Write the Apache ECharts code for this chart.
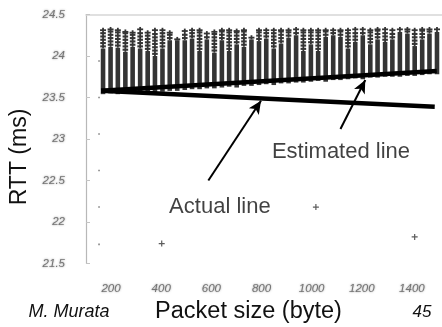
<!DOCTYPE html>
<html>
<head>
<meta charset="utf-8">
<script src="https://cdn.jsdelivr.net/npm/echarts@6/dist/echarts.min.js"></script>
<style>
  html, body { margin: 0; padding: 0; background: #fff; }
  #chart { width: 442px; height: 327px; }
</style>
</head>
<body>
<div id="chart"></div>
<script>
// Packet sizes (bytes) of each measured column
const packetSizes = [168, 198, 227, 257, 286, 316, 346, 375, 405, 434, 464, 494, 523, 553, 582, 612,
  642, 671, 701, 730, 760, 790, 819, 849, 878, 908, 938, 967, 997, 1026, 1056, 1086, 1115, 1145,
  1174, 1204, 1234, 1263, 1293, 1322, 1352, 1382, 1411, 1441, 1470, 1500];
// Lowest RTT observed for each packet size (ms)
const rttLow = [23.54, 23.55, 23.54, 23.55, 23.56, 23.55, 23.57, 23.56, 23.57, 23.58, 23.58, 23.59,
  23.60, 23.60, 23.61, 23.61, 23.62, 23.63, 23.62, 23.64, 23.64, 23.65, 23.66, 23.65, 23.67, 23.67,
  23.68, 23.68, 23.69, 23.70, 23.69, 23.71, 23.71, 23.72, 23.73, 23.72, 23.74, 23.74, 23.75, 23.75,
  23.75, 23.76, 23.76, 23.77, 23.78, 23.78];
// Upper edge of the dense block of samples (ms)
const rttDenseTop = [24.09, 24.11, 24.10, 24.05, 24.11, 24.09, 24.06, 24.00, 24.09, 24.19, 24.19,
  24.19, 24.21, 24.06, 24.20, 24.04, 24.19, 24.06, 24.14, 24.11, 24.20, 24.18, 24.21,
  24.09, 24.15, 24.22, 24.25, 24.06, 24.14, 24.06, 24.23, 24.25, 24.23, 24.09,
  24.17, 24.25, 24.14, 24.20, 24.17, 24.20, 24.29, 24.27, 24.12, 24.20, 24.27, 24.29];
// Largest RTT sample for each packet size (ms)
const rttMax = [24.34, 24.35, 24.34, 24.32, 24.31, 24.35, 24.31, 24.34, 24.34, 24.31, 24.23,
  24.33, 24.34, 24.34, 24.30, 24.32, 24.34, 24.34, 24.33, 24.34, 24.25, 24.34, 24.34,
  24.34, 24.34, 24.34, 24.35, 24.34, 24.34, 24.34, 24.34, 24.34, 24.34, 24.34,
  24.35, 24.35, 24.34, 24.35, 24.35, 24.34, 24.35, 24.35, 24.34, 24.35, 24.35, 24.35];

// Isolated samples far below the bulk
const outlierSizes = [402, 1017, 1411];
const outlierRtt = [21.74, 22.18, 21.82];
// Tiny marks along the left edge
const strayRtt = [23.94, 23.50, 23.06, 22.62, 22.18, 21.73];
const straySize = 152;

// Fitted lines: [packet size, RTT]
const estimatedLine = [[160, 23.58], [1499, 23.82]];
const actualLine = [[160, 23.58], [1491, 23.39]];

// Callouts
const calloutText = ['Actual line', 'Estimated line'];
const calloutAt = [[634, 22.18], [1117, 22.85]];
const arrowFrom = [[588, 22.50], [1115, 23.12]];
const arrowTo = [[798, 23.46], [1214, 23.71]];

const xTicks = [200, 400, 600, 800, 1000, 1200, 1400];

const colColor = '#343434';
const tickLabelStyle = {
  color: '#757575',
  fontStyle: 'italic',
  fontFamily: 'Liberation Sans',
  fontSize: 11.5,
  textShadowColor: 'rgba(110,110,110,0.75)',
  textShadowBlur: 2
};

function renderColumn(params, api) {
  const x = api.value(0);
  const pLow = api.coord([x, api.value(1)]);
  const pDense = api.coord([x, api.value(2)]);
  const pMax = api.coord([x, api.value(3)]);
  const cx = pLow[0];
  const w = 4.6;
  const children = [];
  children.push({ type: 'rect', shape: { x: cx - w / 2, y: pDense[1], width: w, height: pLow[1] - pDense[1] }, style: { fill: colColor } });
  children.push({ type: 'rect', shape: { x: cx - 0.9, y: pMax[1], width: 1.8, height: pDense[1] - pMax[1] }, style: { fill: colColor } });
  for (let y = pDense[1] - 3.2; y > pMax[1] + 2; y -= 3.3) {
    children.push({ type: 'rect', shape: { x: cx - 2.8, y: y, width: 5.6, height: 2.1 }, style: { fill: colColor } });
  }
  children.push({ type: 'rect', shape: { x: cx - 3, y: pMax[1] + 1.5, width: 6, height: 1.8 }, style: { fill: colColor } });
  return { type: 'group', children: children };
}

const columnData = packetSizes.map((s, i) => [s, rttLow[i], rttDenseTop[i], rttMax[i]]);

const chart = echarts.init(document.getElementById('chart'), null, { renderer: 'canvas' });
chart.setOption({
  animation: false,
  backgroundColor: '#fff',
  grid: { left: 86, top: 14.5, width: 358.6, height: 249 },
  xAxis: [{
    type: 'value', min: 100, max: 1520,
    axisLine: { show: false }, axisTick: { show: false }, splitLine: { show: false },
    axisLabel: Object.assign({ customValues: xTicks, margin: 19, formatter: v => String(v) }, tickLabelStyle)
  }, {
    type: 'value', min: 100, max: 1520, position: 'top',
    axisLine: { show: true, lineStyle: { color: '#d6d6d6', width: 1.5 } },
    axisTick: { show: false }, axisLabel: { show: false }, splitLine: { show: false }
  }],
  yAxis: {
    type: 'value', min: 21.5, max: 24.5, interval: 0.5,
    axisLine: { show: true, lineStyle: { color: '#b8b8b8', width: 1.2 } },
    axisTick: { show: true, inside: true, length: 4, lineStyle: { color: '#c4c4c4' } },
    splitLine: { show: false },
    axisLabel: Object.assign({ margin: 21, formatter: v => String(v) }, tickLabelStyle)
  },
  series: [
    {
      type: 'custom', renderItem: renderColumn, data: columnData,
      encode: { x: 0, y: [1, 2, 3] }, z: 2, silent: true
    },
    {
      type: 'scatter', data: outlierSizes.map((s, i) => [s, outlierRtt[i]]),
      symbol: 'path://M2.4,0H3.6V2.4H6V3.6H3.6V6H2.4V3.6H0V2.4H2.4Z', symbolSize: 6,
      itemStyle: { color: '#333' }, z: 3, silent: true
    },
    {
      type: 'scatter', data: strayRtt.map(v => [straySize, v]),
      symbol: 'rect', symbolSize: 1.6, itemStyle: { color: '#666' }, z: 3, silent: true
    },
    {
      type: 'line', data: estimatedLine, symbol: 'none',
      lineStyle: { color: '#000', width: 4.5 }, z: 4, silent: true
    },
    {
      type: 'line', data: actualLine, symbol: 'none',
      lineStyle: { color: '#000', width: 4.5 }, z: 4, silent: true,
      markLine: {
        silent: true,
        label: { show: false },
        lineStyle: { color: '#000', width: 2, type: 'solid' },
        data: arrowFrom.map((p, i) => [
          { coord: p, symbol: 'none' },
          { coord: arrowTo[i], symbol: 'arrow', symbolSize: [9, 13] }
        ])
      }
    },
    {
      type: 'scatter', data: calloutAt.map((p, i) => ({ value: p, name: calloutText[i] })),
      symbolSize: 1, itemStyle: { color: 'transparent' }, z: 5, silent: true,
      label: {
        show: true, position: 'inside', formatter: p => p.name,
        color: '#111', fontSize: 22, fontFamily: 'Liberation Sans'
      }
    }
  ],
  graphic: [
    {
      type: 'text', x: 20, y: 157, rotation: Math.PI / 2,
      style: { text: 'RTT (ms)', fill: '#111', fontSize: 23, fontFamily: 'Liberation Sans', align: 'center', verticalAlign: 'middle' }
    },
    {
      type: 'text', x: 248.5, y: 312,
      style: { text: 'Packet size (byte)', fill: '#111', fontSize: 23.5, fontFamily: 'Liberation Sans', align: 'center', verticalAlign: 'middle' }
    },
    {
      type: 'text', x: 69, y: 312,
      style: { text: 'M. Murata', fill: '#111', fontSize: 18, fontStyle: 'italic', fontFamily: 'Liberation Sans', align: 'center', verticalAlign: 'middle' }
    },
    {
      type: 'text', x: 422, y: 312,
      style: { text: '45', fill: '#111', fontSize: 17, fontStyle: 'italic', fontFamily: 'Liberation Sans', align: 'center', verticalAlign: 'middle' }
    }
  ]
});
</script>
</body>
</html>
